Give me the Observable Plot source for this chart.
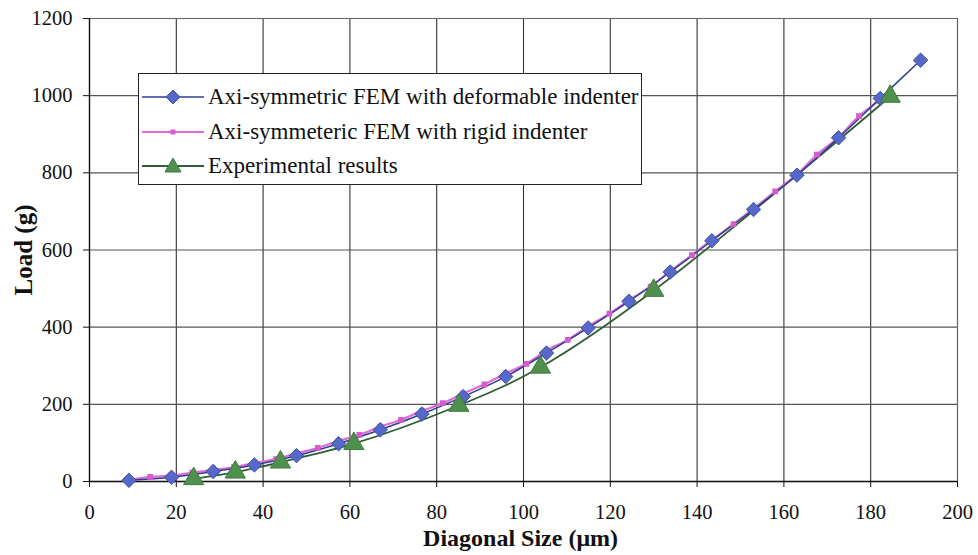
<!DOCTYPE html>
<html>
<head>
<meta charset="utf-8">
<script src="https://cdn.jsdelivr.net/npm/d3@7"></script>
<script src="https://cdn.jsdelivr.net/npm/@observablehq/plot@0.6"></script>
<style>
  body { margin: 0; background: #fff; }
  #wrap { position: relative; width: 978px; height: 555px; font-family: "Liberation Serif", "Times New Roman", serif; }
  #legend { position: absolute; left: 138px; top: 73px; width: 504px; height: 112px; border: 1.3px solid #222; background: #fff; box-sizing: border-box; }
  .row { position: absolute; left: 0; height: 30px; display: flex; align-items: center; font-size: 23px; color: #111; white-space: nowrap; }
  .row svg { margin-left: 3px; margin-right: 4px; }
</style>
</head>
<body>
<div id="wrap"></div>
<script>
// ---- data ----
const deformX = [9.1, 18.9, 28.5, 38.0, 47.7, 57.4, 67.0, 76.6, 86.1, 95.9, 105.3, 114.9, 124.3, 133.8, 143.4, 153.0, 163.0, 172.6, 182.2, 191.5];
const deformY = [3, 11, 26, 43, 67, 98, 134, 175, 220, 272, 333, 398, 467, 543, 624, 705, 794, 891, 993, 1092];
const rigidX = [9.1, 14.0, 18.9, 23.7, 28.5, 33.3, 38.0, 43.0, 47.7, 52.6, 57.4, 62.2, 67.0, 71.8, 76.6, 81.4, 86.1, 91.0, 95.9, 100.7, 105.3, 110.2, 114.9, 119.8, 124.3, 129.3, 133.8, 138.8, 143.4, 148.4, 153.0, 158.0, 163.0, 167.6, 172.6, 177.3, 182.0];
const rigidY = [4, 12, 15, 23, 30, 37, 48, 58, 73, 87, 105, 121, 142, 160, 183, 203, 228, 252, 280, 305, 339, 367, 402, 435, 470, 505, 545, 587, 626, 667, 707, 752, 796, 847, 892, 947, 988];
const expX = [24.0, 33.6, 44.0, 60.9, 85.1, 103.9, 130.0, 184.5];
const expY = [7, 24, 50, 98, 197, 296, 495, 998];
const xTicks = [0, 20, 40, 60, 80, 100, 120, 140, 160, 180, 200];
const yTicks = [0, 200, 400, 600, 800, 1000, 1200];
const seriesNames = ["Axi-symmetric FEM with deformable indenter", "Axi-symmeteric FEM with rigid indenter", "Experimental results"];
const xTitle = "Diagonal Size (\u03bcm)";
const yTitle = "Load (g)";

const deform = deformX.map((x, i) => ({x, y: deformY[i]}));
const rigid = rigidX.map((x, i) => ({x, y: rigidY[i]}));
const exp = expX.map((x, i) => ({x, y: expY[i]}));

const blueLine = "#2d3f8f", blueFill = "#5668c8";
const pinkLine = "#e06ad8", pinkFill = "#d65bd0";
const greenLine = "#2f5e35", greenFill = "#4f904f";
const serif = "Liberation Serif";

const chart = Plot.plot({
  width: 978,
  height: 555,
  marginLeft: 89,
  marginRight: 21,
  marginTop: 18,
  marginBottom: 74,
  style: { fontFamily: serif, fontSize: "20px", color: "#111", background: "#fff" },
  x: { domain: [0, 200], ticks: xTicks, label: null },
  y: { domain: [0, 1200], ticks: yTicks, label: null },
  marks: [
    Plot.gridX(xTicks, { stroke: "#333", strokeOpacity: 1, strokeWidth: 1.1 }),
    Plot.gridY(yTicks, { stroke: "#555", strokeOpacity: 1, strokeWidth: 1.1 }),
    Plot.frame({ stroke: "#666", strokeWidth: 1.1 }),
    Plot.ruleY([0], { stroke: "#111", strokeWidth: 1.3 }),
    Plot.ruleX([0], { stroke: "#111", strokeWidth: 1.3 }),
    Plot.axisX({ ticks: xTicks, tickSize: 6, label: null, tickFormat: () => "", stroke: "#111" }),
    Plot.axisY({ ticks: yTicks, tickSize: 6, label: null, tickFormat: () => "", stroke: "#111" }),
    Plot.text(xTicks, { x: d => d, frameAnchor: "bottom", lineAnchor: "middle", textAnchor: "middle", dy: 31, text: d => String(d), fontSize: 20.5, fontFamily: serif, fill: "#111" }),
    Plot.text(yTicks, { y: d => d, frameAnchor: "left", lineAnchor: "middle", textAnchor: "end", dx: -17, text: d => String(d), fontSize: 20.5, fontFamily: serif, fill: "#111" }),
    Plot.line(exp, { x: "x", y: "y", stroke: greenLine, strokeWidth: 1.8, curve: "catmull-rom" }),
    Plot.line(rigid, { x: "x", y: "y", stroke: pinkLine, strokeWidth: 2.2, curve: "catmull-rom" }),
    Plot.line(deform, { x: "x", y: "y", stroke: blueLine, strokeWidth: 1.5, curve: "catmull-rom" }),
    Plot.dot(rigid, { x: "x", y: "y", symbol: "square", r: 2.4, fill: pinkFill, stroke: pinkFill }),
    Plot.dot(deform, { x: "x", y: "y", symbol: "diamond2", r: 6.5, fill: blueFill, stroke: "#3d4fa8", strokeWidth: 1 }),
    Plot.dot(exp, { x: "x", y: "y", symbol: "triangle", r: 7.5, fill: greenFill, stroke: "#3f7a40", strokeWidth: 1 }),
    Plot.text([xTitle], { frameAnchor: "bottom", textAnchor: "middle", lineAnchor: "middle", dx: -3, dy: 57, fontSize: 24, fontWeight: "bold", fontFamily: serif, fill: "#111" }),
    Plot.text([yTitle], { frameAnchor: "left", textAnchor: "middle", dx: -66, rotate: -90, fontSize: 25, fontWeight: "bold", fontFamily: serif, fill: "#111" })
  ]
});

const wrap = document.getElementById("wrap");
wrap.appendChild(chart);

// legend overlay
const legend = document.createElement("div");
legend.id = "legend";
const tops = [8, 43, 77];
const swatches = [
  `<svg width="62" height="20"><line x1="0" y1="10" x2="62" y2="10" stroke="${blueLine}" stroke-width="1.6"/><path d="M31,3 L38,10 L31,17 L24,10 Z" fill="${blueFill}" stroke="#3d4fa8"/></svg>`,
  `<svg width="62" height="20"><line x1="0" y1="10" x2="62" y2="10" stroke="${pinkLine}" stroke-width="2.2"/><rect x="28.5" y="7.5" width="5" height="5" fill="${pinkFill}"/></svg>`,
  `<svg width="62" height="20"><line x1="0" y1="10" x2="62" y2="10" stroke="${greenLine}" stroke-width="1.8"/><path d="M31,2 L39,16 L23,16 Z" fill="${greenFill}" stroke="#3f7a40"/></svg>`
];
seriesNames.forEach((name, i) => {
  const row = document.createElement("div");
  row.className = "row";
  row.style.top = tops[i] + "px";
  row.innerHTML = swatches[i] + `<span>${name}</span>`;
  legend.appendChild(row);
});
wrap.appendChild(legend);
</script>
</body>
</html>
